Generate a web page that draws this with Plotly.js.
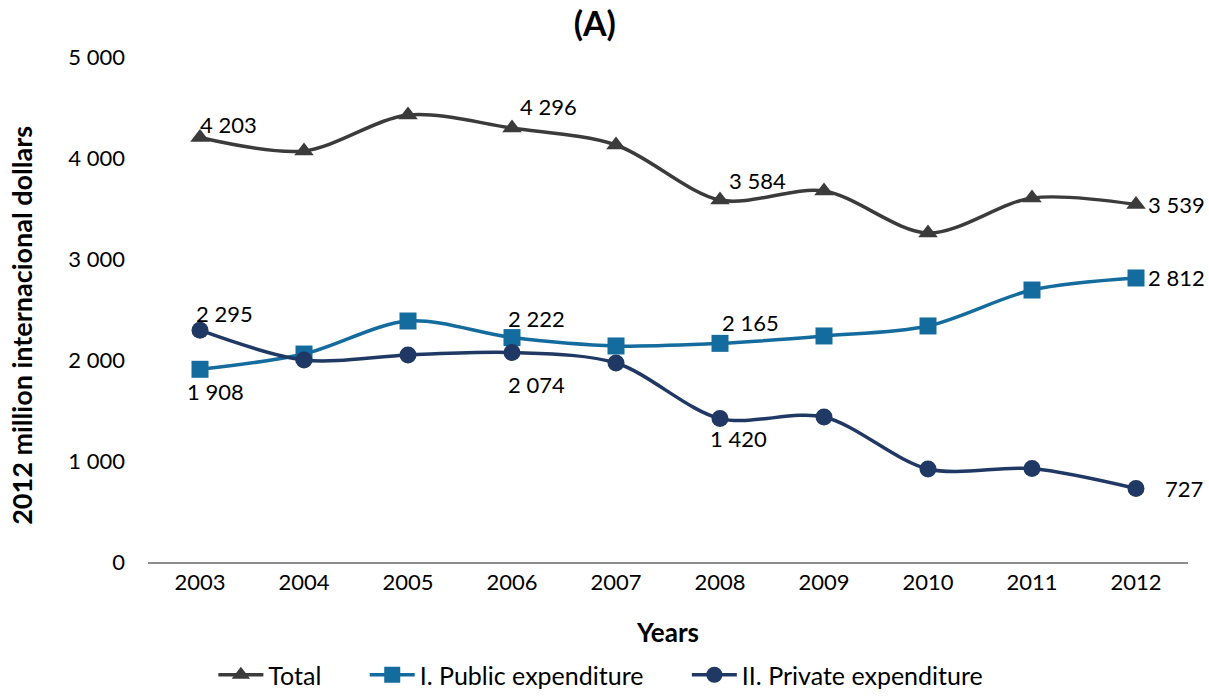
<!DOCTYPE html>
<html>
<head>
<meta charset="utf-8">
<script src="https://cdn.plot.ly/plotly-3.0.1.min.js"></script>
<style>html,body{margin:0;padding:0;background:#fff;}#chart{width:1209px;height:698px;}</style>
</head>
<body>
<div id="chart"></div>
<script>
const years = ['2003','2004','2005','2006','2007','2008','2009','2010','2011','2012'];
const total   = [4203, 4070, 4426, 4296, 4129, 3584, 3673, 3257, 3604, 3539];
const publicExp  = [1908, 2059, 2386, 2222, 2139, 2165, 2238, 2337, 2693, 2812];
const privateExp = [2295, 2000, 2050, 2074, 1970, 1420, 1436, 921, 925, 727];
const seriesNames = ['Total', 'I. Public expenditure', 'II. Private expenditure'];
const labelled = [0, 3, 5, 9];
const yTicks = [0, 1000, 2000, 3000, 4000, 5000];
const yTitle = '2012 million internacional dollars';

function fmt(v){ return String(Math.round(v)).replace(/\B(?=(\d{3})+(?!\d))/g, ' '); }
const tickText = yTicks.map(fmt);

const FONT = 'Lato, "Open Sans", sans-serif';
const colors = ['#3b3b3b', '#146b9e', '#1f3864'];
const symbols = ['triangle-up', 'square', 'circle'];
const data = [total, publicExp, privateExp];
const xIdx = years.map((_, i) => i);
const pad = '\u00a0'.repeat(6);

const traces = data.map((ys, i) => ({
  x: xIdx, y: ys, name: seriesNames[i] + (i < 2 ? pad : ''), type: 'scatter', mode: 'lines+markers',
  line: {color: colors[i], width: 3.5, shape: 'spline', smoothing: 0.9},
  marker: {symbol: symbols[i], size: 17, color: colors[i]},
  hoverinfo: 'x+y'
}));

// label placement (offsets in px) per series per labelled point
const offs = [
  [[28, 13], [36, 22], [37, 20], [40, 0]],
  [[15, -22], [24, 19], [30, 21], [40, 0]],
  [[24, 17], [24, -32], [18, -20], [48, 0]]
];
const annotations = [];
data.forEach((ys, i) => {
  labelled.forEach((idx, k) => {
    annotations.push({
      x: idx, y: ys[idx], xref: 'x', yref: 'y', text: fmt(ys[idx]),
      showarrow: false, xshift: offs[i][k][0], yshift: offs[i][k][1],
      font: {family: FONT, size: 22, color: '#000'}
    });
  });
});
annotations.push({
  x: -0.121, y: 0.468, xref: 'paper', yref: 'paper', xanchor: 'center', yanchor: 'middle',
  text: '<b>' + yTitle + '</b>', textangle: -90, showarrow: false,
  font: {family: FONT, size: 27, color: '#000'}
});

const layout = {
  width: 1209, height: 698,
  paper_bgcolor: '#fff', plot_bgcolor: '#fff',
  margin: {l: 148, r: 21, t: 57, b: 136},
  title: {text: '<b>(A)</b>', x: 0.492, xanchor: 'center', y: 0.965, yanchor: 'middle',
          font: {family: FONT, size: 34, color: '#000'}},
  font: {family: FONT, size: 22, color: '#000'},
  xaxis: {
    range: [-0.5, 9.5], tickvals: xIdx, ticktext: years, showgrid: false, zeroline: false,
    showline: true, linecolor: '#8c8c8c', linewidth: 1.5, ticks: '',
    tickfont: {family: FONT, size: 22, color: '#000'},
    title: {text: '<b>Years</b>', font: {family: FONT, size: 26, color: '#000'}, standoff: 30}
  },
  yaxis: {
    range: [0, 5000], tickvals: yTicks, ticktext: tickText, showgrid: false,
    zeroline: false, showline: false, ticks: '', ticklabelstandoff: 22,
    tickfont: {family: FONT, size: 22, color: '#000'}
  },
  legend: {orientation: 'h', x: 0.497, xanchor: 'center', xref: 'container', y: -0.016, yanchor: 'bottom', yref: 'container',
           font: {family: FONT, size: 25, color: '#000'}, itemwidth: 45},
  annotations: annotations,
  showlegend: true
};

Plotly.newPlot('chart', traces, layout, {displayModeBar: false, staticPlot: true});
</script>
</body>
</html>
